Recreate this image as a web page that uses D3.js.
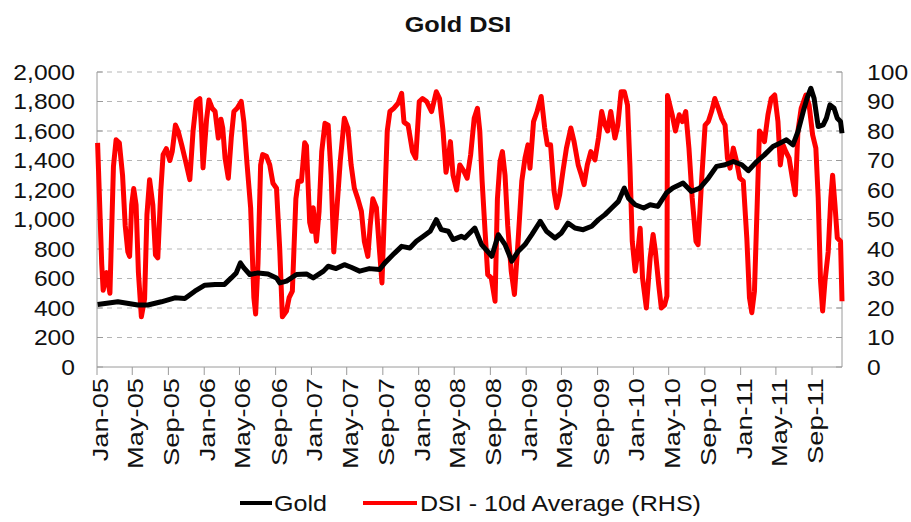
<!DOCTYPE html>
<html>
<head>
<meta charset="utf-8">
<script src="https://cdn.jsdelivr.net/npm/d3@7/dist/d3.min.js"></script>
<style>
  body { margin: 0; background: #fff; }
  text { font-family: "Liberation Sans", Arial, sans-serif; fill: #111; }
</style>
</head>
<body>
<div id="chart"></div>
<script>
// Gold DSI — gold price (LHS) vs DSI 10d average (RHS)
const goldDates = [
  '2005-01-03','2005-03-13','2005-05-20','2005-06-23','2005-08-08','2005-09-23','2005-10-27','2005-11-30',
  '2006-01-03','2006-02-07','2006-03-11','2006-04-03','2006-04-20','2006-05-04','2006-05-16','2006-06-05',
  '2006-07-03','2006-08-06','2006-09-04','2006-09-15','2006-10-08','2006-11-11','2006-12-15','2007-01-07',
  '2007-02-11','2007-02-27','2007-03-26','2007-04-23','2007-05-16','2007-06-14','2007-07-17','2007-08-21',
  '2007-09-08','2007-10-06','2007-11-04','2007-12-02','2007-12-24','2008-01-17','2008-02-09','2008-03-01',
  '2008-03-18','2008-04-11','2008-04-27','2008-05-25','2008-06-06','2008-07-10','2008-08-02','2008-09-06',
  '2008-09-28','2008-10-21','2008-11-13','2008-12-05','2008-12-28','2009-01-20','2009-02-18','2009-03-11',
  '2009-04-09','2009-05-01','2009-05-23','2009-06-16','2009-07-14','2009-08-12','2009-09-04','2009-09-26',
  '2009-10-19','2009-11-11','2009-12-01','2009-12-15','2010-01-07','2010-02-05','2010-02-27','2010-03-25',
  '2010-04-23','2010-05-15','2010-06-19','2010-07-17','2010-08-15','2010-09-13','2010-10-11','2010-11-09',
  '2010-12-07','2011-01-05','2011-01-27','2011-02-25','2011-03-23','2011-04-21','2011-05-14','2011-06-06',
  '2011-06-28','2011-07-15','2011-08-02','2011-08-15','2011-08-28','2011-09-08','2011-09-22','2011-10-09',
  '2011-10-20','2011-11-01','2011-11-15','2011-11-26','2011-12-07','2011-12-12'
];
const goldValues = [
  424,442,420,420,442,469,465,514,
  555,560,560,604,638,706,672,627,
  638,631,604,570,582,627,631,604,
  650,683,667,694,676,650,667,661,
  706,762,818,807,852,886,920,999,
  931,920,864,886,875,942,830,751,
  897,830,717,785,830,897,988,920,
  875,909,976,942,931,954,999,1033,
  1078,1123,1213,1145,1100,1078,1100,1089,
  1179,1213,1247,1190,1213,1281,1360,1371,
  1393,1371,1331,1393,1438,1495,1517,1540,
  1506,1596,1732,1822,1890,1822,1630,1642,
  1687,1777,1754,1687,1664,1585
];

const dsiDates = [
  '2005-01-03','2005-01-17','2005-01-22','2005-02-03','2005-02-14','2005-02-26','2005-03-07','2005-03-18',
  '2005-03-29','2005-04-07','2005-04-16','2005-04-22','2005-04-29','2005-05-06','2005-05-14','2005-05-22',
  '2005-06-01','2005-06-12','2005-06-20','2005-06-29','2005-07-10','2005-07-19','2005-07-27','2005-08-06',
  '2005-08-14','2005-08-25','2005-09-06','2005-09-14','2005-09-25','2005-10-04','2005-10-17','2005-10-29',
  '2005-11-13','2005-11-24','2005-12-05','2005-12-17','2005-12-23','2005-12-28','2006-01-09','2006-01-17',
  '2006-01-28','2006-02-07','2006-02-18','2006-02-27','2006-03-05','2006-03-13','2006-03-24','2006-04-03',
  '2006-04-12','2006-04-23','2006-05-07','2006-05-16','2006-05-27','2006-06-08','2006-06-19','2006-06-25',
  '2006-07-03','2006-07-12','2006-07-19','2006-08-01','2006-08-12','2006-08-23','2006-09-04','2006-09-15',
  '2006-09-24','2006-10-08','2006-10-17','2006-10-28','2006-11-09','2006-11-17','2006-11-28','2006-12-09',
  '2006-12-15','2006-12-26','2007-01-02','2007-01-07','2007-01-18','2007-01-27','2007-02-05','2007-02-16',
  '2007-02-27','2007-03-09','2007-03-18','2007-03-28','2007-04-09','2007-04-23','2007-05-05','2007-05-16',
  '2007-05-27','2007-06-08','2007-06-20','2007-06-30','2007-07-12','2007-07-20','2007-07-29','2007-08-10',
  '2007-08-21','2007-08-29','2007-09-08','2007-09-16','2007-09-25','2007-10-08','2007-10-23','2007-11-04',
  '2007-11-12','2007-11-26','2007-12-11','2007-12-22','2008-01-03','2008-01-14','2008-01-28','2008-02-14',
  '2008-03-01','2008-03-12','2008-03-24','2008-04-03','2008-04-11','2008-04-18','2008-04-27','2008-05-09',
  '2008-05-20','2008-06-03','2008-06-14','2008-06-26','2008-07-08','2008-07-19','2008-07-27','2008-08-04',
  '2008-08-14','2008-08-23','2008-09-04','2008-09-17','2008-09-25','2008-10-04','2008-10-12','2008-10-21',
  '2008-10-30','2008-11-11','2008-11-22','2008-12-05','2008-12-17','2008-12-28','2009-01-07','2009-01-14',
  '2009-01-26','2009-02-07','2009-02-21','2009-03-05','2009-03-14','2009-03-25','2009-04-06','2009-04-15',
  '2009-04-25','2009-05-06','2009-05-18','2009-06-02','2009-06-13','2009-06-27','2009-07-08','2009-07-17',
  '2009-07-28','2009-08-09','2009-08-23','2009-09-04','2009-09-15','2009-09-26','2009-10-05','2009-10-16',
  '2009-10-30','2009-11-09','2009-11-20','2009-12-01','2009-12-12','2009-12-20','2009-12-28','2010-01-07',
  '2010-01-16','2010-01-24','2010-02-01','2010-02-14','2010-02-27','2010-03-09','2010-03-17','2010-03-28',
  '2010-04-06','2010-04-17','2010-04-25','2010-04-27','2010-05-13','2010-05-24','2010-06-06','2010-06-17',
  '2010-06-28','2010-07-09','2010-07-20','2010-08-02','2010-08-09','2010-08-21','2010-09-02','2010-09-13',
  '2010-09-24','2010-10-05','2010-10-17','2010-10-28','2010-11-09','2010-11-17','2010-11-26','2010-12-07',
  '2010-12-18','2010-12-29','2011-01-10','2011-01-22','2011-01-31','2011-02-08','2011-02-17','2011-02-27',
  '2011-03-06','2011-03-15','2011-03-23','2011-04-04','2011-04-15','2011-04-27','2011-05-08','2011-05-16',
  '2011-05-25','2011-06-04','2011-06-15','2011-06-26','2011-07-06','2011-07-15','2011-07-26','2011-08-11',
  '2011-08-22','2011-09-03','2011-09-14','2011-09-22','2011-09-30','2011-10-07','2011-10-15','2011-10-26',
  '2011-11-04','2011-11-10','2011-11-18','2011-11-26','2011-12-07','2011-12-12'
];
const dsiValues = [
  76,35,26,32,25,68,77,76,
  65,48,39,37.5,55,60.5,55,32,
  17,23,51.6,63.5,55,38,37,59.5,
  72,74,70,73,82,80,75,70,
  63.5,80,90,91,80,67.5,84,90.5,
  87.7,86.6,77.6,84,81,70.8,64,77.6,
  86.6,87.7,90,83,68.5,54,23.5,18,
  35,68.5,72,71.4,68.5,62.3,60.6,40,
  17,19,23.5,25.7,57,63,63,76,
  75,49,46,54,42.6,52.8,73,82.6,
  82,65,39,52.8,69.7,84.3,81,68.5,
  60.6,57,52.8,42.6,37.5,48,57,54,
  39,28.5,57,80,86.6,87.7,89.4,92.8,
  83,82,73,70.8,90,91,90,86.6,
  93.3,91,80,66,70.8,76.4,65,60,
  68.5,66.3,64,72,84.3,87.7,80,63,
  46,31.3,30.2,22.3,57,69.7,73,65,
  48,32.5,24.6,43.7,63,70.8,75.3,67.4,
  83.2,86.6,91.7,81,75.3,75.3,59.5,54,
  58.4,66.3,74.2,81,76.4,68.5,65,61.8,
  68.5,73,70.2,77.6,86.6,82,80,86.6,
  77.6,82,93.3,93.3,88.8,68.5,42.6,32.5,
  39,47,30.2,20,37,44.9,39,28,
  20,21,24,92,85.5,80,85.5,83.2,
  86.6,74.2,57.3,42.6,41.5,63,82,83.2,
  86.6,91,87.7,84.3,82,70.8,67.4,74.2,
  69.7,64,63,43.7,23.5,18.4,25.7,57.3,
  80,78.7,76.4,85.5,91,92.2,83.2,68.5,
  75.3,73,70.8,64,58.4,80,87.7,92.2,
  88.8,78.7,74.2,57.3,29,19,29,39,
  57.3,65,55,43.7,42.6,22.3
];

const xTickLabels = ['Jan-05','May-05','Sep-05','Jan-06','May-06','Sep-06','Jan-07','May-07','Sep-07',
  'Jan-08','May-08','Sep-08','Jan-09','May-09','Sep-09','Jan-10','May-10','Sep-10','Jan-11','May-11','Sep-11'];
const leftTicks = [0,200,400,600,800,1000,1200,1400,1600,1800,2000];
const rightTicks = [0,10,20,30,40,50,60,70,80,90,100];

const W = 911, H = 522;
const m = {l: 97, r: 842, t: 72, b: 367};
const parse = d3.timeParse('%Y-%m-%d');
const parseTick = d3.timeParse('%b-%y');
const fmt = d3.format(',');

const gold = goldDates.map((d,i) => ({date: parse(d), v: goldValues[i]}));
const dsi = dsiDates.map((d,i) => ({date: parse(d), v: dsiValues[i]}));

const x = d3.scaleTime().domain([parse('2005-01-01'), parse('2011-12-12')]).range([m.l, m.r]);
const yL = d3.scaleLinear().domain([0, 2000]).range([m.b, m.t]);
const yR = d3.scaleLinear().domain([0, 100]).range([m.b, m.t]);

const svg = d3.select('#chart').append('svg').attr('width', W).attr('height', H);

// title
svg.append('text').attr('text-anchor', 'middle')
  .attr('transform', 'translate(458,32) scale(1.15,1)')
  .style('font-weight', 'bold').style('font-size', '22px').text('Gold DSI');

// dashed gridlines
svg.append('g').selectAll('line').data(leftTicks.filter(d => d > 0)).join('line')
  .attr('x1', m.l).attr('x2', m.r).attr('y1', d => yL(d)).attr('y2', d => yL(d))
  .attr('stroke', '#b5b5b5').attr('stroke-width', 1).attr('stroke-dasharray', '5,5');

// axis frame
const axisCol = '#9a9a9a';
svg.append('line').attr('x1', m.l).attr('x2', m.l).attr('y1', m.t).attr('y2', m.b).attr('stroke', axisCol);
svg.append('line').attr('x1', m.r).attr('x2', m.r).attr('y1', m.t).attr('y2', m.b).attr('stroke', axisCol);
svg.append('line').attr('x1', m.l).attr('x2', m.r).attr('y1', m.b).attr('y2', m.b).attr('stroke', axisCol);

// left axis
const gl = svg.append('g');
gl.selectAll('line').data(leftTicks).join('line')
  .attr('x1', m.l).attr('x2', m.l + 6).attr('y1', d => yL(d)).attr('y2', d => yL(d)).attr('stroke', axisCol);
gl.selectAll('text').data(leftTicks).join('text')
  .attr('text-anchor', 'end').attr('dy', '0.36em')
  .attr('transform', d => `translate(75,${yL(d)}) scale(1.12,1)`)
  .style('font-size', '22px').text(d => fmt(d));

// right axis
const gr = svg.append('g');
gr.selectAll('line').data(rightTicks).join('line')
  .attr('x1', m.r - 6).attr('x2', m.r).attr('y1', d => yR(d)).attr('y2', d => yR(d)).attr('stroke', axisCol);
gr.selectAll('text').data(rightTicks).join('text')
  .attr('text-anchor', 'start').attr('dy', '0.36em')
  .attr('transform', d => `translate(867,${yR(d)}) scale(1.12,1)`)
  .style('font-size', '22px').text(d => d);

// x axis
const tickDates = xTickLabels.map(parseTick);
const gx = svg.append('g');
gx.selectAll('line').data(tickDates).join('line')
  .attr('x1', d => x(d)).attr('x2', d => x(d)).attr('y1', m.b).attr('y2', m.b + 8).attr('stroke', axisCol);
gx.selectAll('text').data(tickDates).join('text')
  .attr('text-anchor', 'end').attr('dy', '0.36em')
  .attr('transform', d => `translate(${x(d) + 3},378) rotate(-90) scale(1.24,1)`)
  .style('font-size', '22px').text((d,i) => xTickLabels[i]);

// series
const lineR = d3.line().x(d => x(d.date)).y(d => yR(d.v));
const lineL = d3.line().x(d => x(d.date)).y(d => yL(d.v));
svg.append('path').datum(dsi).attr('d', lineR).attr('fill', 'none')
  .attr('stroke', '#ff0000').attr('stroke-width', 5).attr('stroke-linejoin', 'round');
svg.append('path').datum(gold).attr('d', lineL).attr('fill', 'none')
  .attr('stroke', '#000').attr('stroke-width', 5).attr('stroke-linejoin', 'round');

// legend
const leg = svg.append('g');
leg.append('line').attr('x1', 240).attr('x2', 272).attr('y1', 503).attr('y2', 503).attr('stroke', '#000').attr('stroke-width', 4);
leg.append('text').attr('transform', 'translate(274,511) scale(1.14,1)').style('font-size', '22px').text('Gold');
leg.append('line').attr('x1', 363).attr('x2', 417).attr('y1', 503).attr('y2', 503).attr('stroke', '#ff0000').attr('stroke-width', 4);
leg.append('text').attr('transform', 'translate(420,511) scale(1.14,1)').style('font-size', '22px').text('DSI - 10d Average (RHS)');
</script>
</body>
</html>
